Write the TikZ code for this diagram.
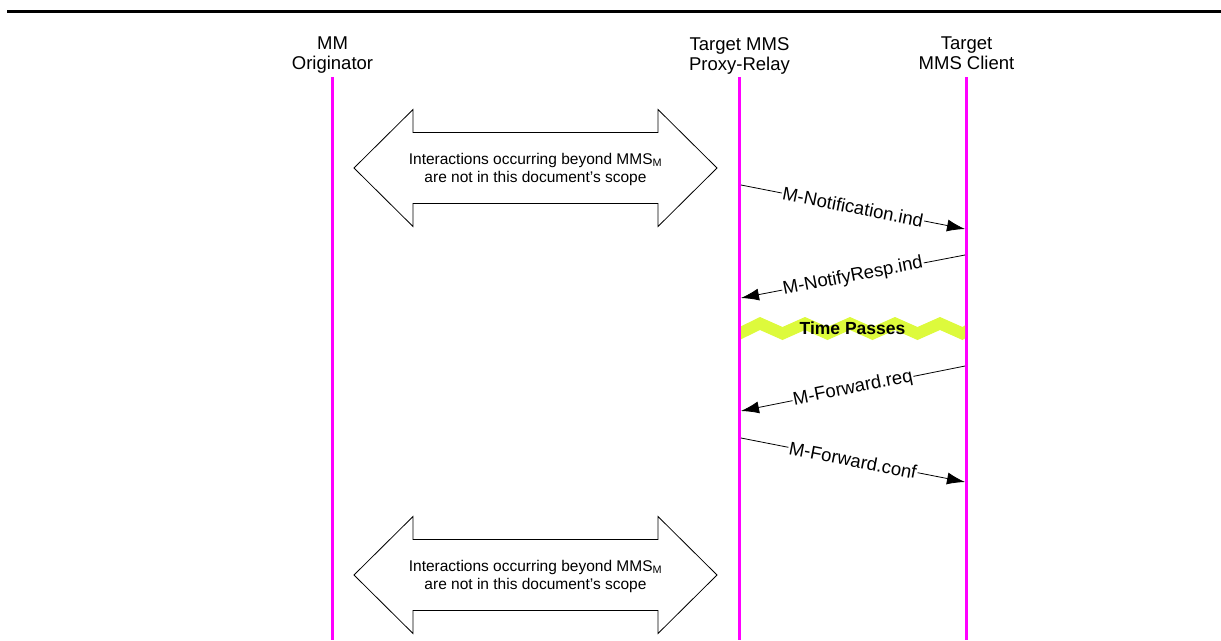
\documentclass[tikz,border=0pt]{standalone}
\usepackage{fontspec}
\setmainfont{Liberation Sans}
\usetikzlibrary{arrows.meta}
\definecolor{lifepink}{HTML}{FF00FF}
\definecolor{timeband}{HTML}{DDFA3C}

\begin{document}
\begin{tikzpicture}[x=1pt, y=-1pt,
    head/.style={align=center, anchor=north, inner sep=0pt, font=\fontsize{18.5}{20}\selectfont},
    life/.style={draw=lifepink, line width=3pt},
    msg/.style={-{Latex[length=18pt, width=12pt]}, line width=0.8pt},
    msglabel/.style={sloped, fill=white, inner sep=1pt, font=\fontsize{18.5}{20}\selectfont},
    outside/.style={draw, line width=0.8pt, fill=white},
    outsidetext/.style={align=center, inner sep=0pt, font=\fontsize{15.5}{18}\selectfont}
]
\useasboundingbox (0,0) rectangle (1221,640);
\draw[line width=3pt] (7,11) -- (1221,11);

\node[head] (orig) at (332.5,37) {MM\\Originator};
\node[head] (proxy) at (739.5,37) {Target MMS\\Proxy-Relay};
\node[head] (client) at (966.5,37) {Target\\MMS Client};
\coordinate (orig-top) at (332.5,77);
\coordinate (orig-end) at (332.5,640);
\coordinate (proxy-top) at (739.5,77);
\coordinate (proxy-end) at (739.5,640);
\coordinate (client-top) at (966.5,77);
\coordinate (client-end) at (966.5,640);
\draw[life] (orig-top) -- (orig-end);
\draw[life] (proxy-top) -- (proxy-end);
\draw[life] (client-top) -- (client-end);

\foreach \cy/\nm in {168/upper, 575/lower} {
  \draw[outside] (354,\cy) -- (413,{\cy-58.5}) -- (413,{\cy-35.5}) -- (658,{\cy-35.5})
    -- (658,{\cy-58.5}) -- (717,\cy) -- (658,{\cy+58.5}) -- (658,{\cy+35.5})
    -- (413,{\cy+35.5}) -- (413,{\cy+58.5}) -- cycle;
  \node[outsidetext] (scope-\nm) at (535.5,{\cy+1})
    {Interactions occurring beyond MMS\textsubscript{M}\\are not in this document's scope};
}

\coordinate (p1) at (741,185);
\coordinate (c1) at (965,229);
\coordinate (c2) at (965,255);
\coordinate (p2) at (741,298);
\coordinate (c3) at (965,366);
\coordinate (p3) at (741,411);
\coordinate (p4) at (741,438);
\coordinate (c4) at (965,482);
\draw[msg] (p1) -- node[msglabel] {M-Notification.ind} (c1);
\draw[msg] (c2) -- node[msglabel] {M-NotifyResp.ind} (p2);

\fill[timeband] (741,326.3)
  \foreach \k in {0,...,4} { -- ({760+45*\k},317) -- ({782.5+45*\k},327) }
  -- (965,325.4) -- (965,338.4)
  \foreach \k in {4,...,0} { -- ({782.5+45*\k},340) -- ({760+45*\k},330) }
  -- (741,339.3) -- cycle;
\node[font=\fontsize{17.5}{20}\selectfont\bfseries, inner sep=0pt] (timepass) at (852.5,328) {Time Passes};

\draw[msg] (c3) -- node[msglabel] {M-Forward.req} (p3);
\draw[msg] (p4) -- node[msglabel] {M-Forward.conf} (c4);
\end{tikzpicture}
\end{document}
